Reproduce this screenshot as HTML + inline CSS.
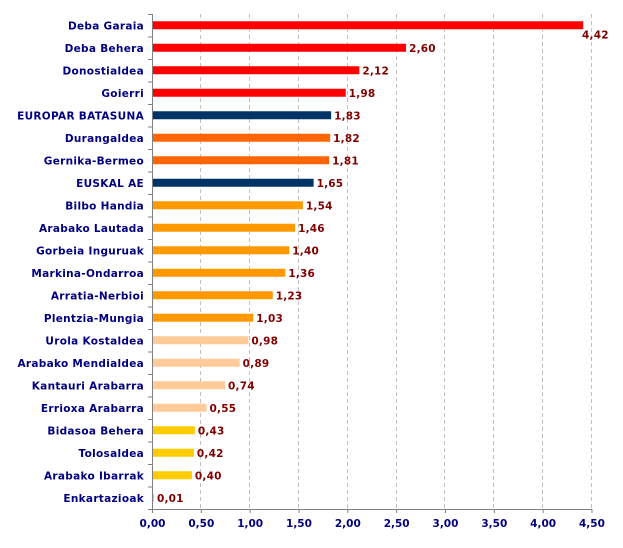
<!DOCTYPE html>
<html><head><meta charset="utf-8"><style>
html,body{margin:0;padding:0;background:#fff;}
svg{display:block;}
text{font-family:"DejaVu Sans","Liberation Sans",sans-serif;font-weight:bold;font-size:10.5px;}
.l{fill:#000080;text-anchor:end;letter-spacing:0.3px;}
.v{fill:#800000;letter-spacing:0.2px;}
.t{fill:#000080;text-anchor:middle;}
</style></head><body>
<svg width="623" height="548" xmlns="http://www.w3.org/2000/svg">
<g stroke="#c0c0c0" stroke-dasharray="4,3" stroke-width="1">
<line x1="200.5" y1="14" x2="200.5" y2="509"/><line x1="249.5" y1="14" x2="249.5" y2="509"/>
<line x1="298.5" y1="14" x2="298.5" y2="509"/><line x1="347.5" y1="14" x2="347.5" y2="509"/>
<line x1="396.5" y1="14" x2="396.5" y2="509"/><line x1="444.5" y1="14" x2="444.5" y2="509"/>
<line x1="493.5" y1="14" x2="493.5" y2="509"/><line x1="542.5" y1="14" x2="542.5" y2="509"/>
<line x1="591.5" y1="14" x2="591.5" y2="509"/>
</g>
<g id="bars"></g>
<g stroke="#808080" stroke-width="1">
<line x1="152.5" y1="14" x2="152.5" y2="510"/><line x1="152" y1="509.5" x2="592" y2="509.5"/>
</g>
<g id="ticks" stroke="#808080"></g>
<g id="txt"></g>
</svg>
<script>
var d=[["Deba Garaia",4.42,"#ff0000"],["Deba Behera",2.60,"#ff0000"],["Donostialdea",2.12,"#ff0000"],["Goierri",1.98,"#ff0000"],["EUROPAR BATASUNA",1.83,"#003366"],["Durangaldea",1.82,"#ff6600"],["Gernika-Bermeo",1.81,"#ff6600"],["EUSKAL AE",1.65,"#003366"],["Bilbo Handia",1.54,"#ff9900"],["Arabako Lautada",1.46,"#ff9900"],["Gorbeia Inguruak",1.40,"#ff9900"],["Markina-Ondarroa",1.36,"#ff9900"],["Arratia-Nerbioi",1.23,"#ff9900"],["Plentzia-Mungia",1.03,"#ff9900"],["Urola Kostaldea",0.98,"#ffcc99"],["Arabako Mendialdea",0.89,"#ffcc99"],["Kantauri Arabarra",0.74,"#ffcc99"],["Errioxa Arabarra",0.55,"#ffcc99"],["Bidasoa Behera",0.43,"#ffcc00"],["Tolosaldea",0.42,"#ffcc00"],["Arabako Ibarrak",0.40,"#ffcc00"],["Enkartazioak",0.01,"#ffcc00"]];
var k=438/4.5,h="",t="",tk="";
d.forEach(function(r,i){var cy=14+22.5*i+11.25,w=r[1]*k;
h+='<rect x="153" y="'+(cy-4)+'" width="'+w+'" height="8" fill="'+r[2]+'"/>';
t+='<text class="l" x="144" y="'+(cy+4)+'">'+r[0]+'</text>';
var vx=153+w+3,vy=cy+4;if(i==0){vx=582;vy=cy+13;}
t+='<text class="v" x="'+vx+'" y="'+vy+'">'+r[1].toFixed(2).replace(".",",")+'</text>';
tk+='<line x1="148" y1="'+(14+22.5*i+0.5)+'" x2="152" y2="'+(14+22.5*i+0.5)+'"/>';});
tk+='<line x1="148" y1="509.5" x2="152" y2="509.5"/>';
for(var j=0;j<=9;j++){var x=152.5+j*48.83;tk+='<line x1="'+x+'" y1="509" x2="'+x+'" y2="513"/>';
t+='<text class="t" x="'+x+'" y="527">'+(j*0.5).toFixed(2).replace(".",",")+'</text>';}
document.getElementById("bars").innerHTML=h;document.getElementById("txt").innerHTML=t;document.getElementById("ticks").innerHTML=tk;
</script>
</body></html>
